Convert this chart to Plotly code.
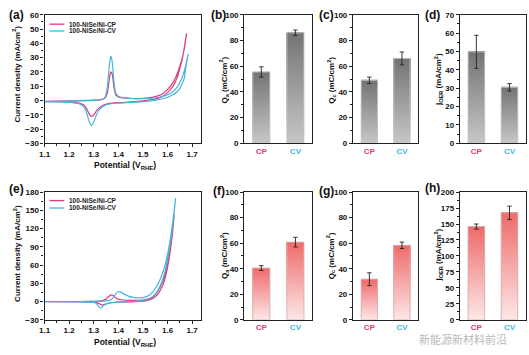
import plotly.graph_objects as go

W, H = 529, 355

# ---------------- data ----------------
cats = ["CP", "CV"]

# (a) CV curves, top row (forward scan then reverse scan)
a_cp_fwd_E = [1.10, 1.15, 1.20, 1.25, 1.30, 1.33, 1.345, 1.355, 1.36, 1.365, 1.37, 1.375, 1.38, 1.385, 1.39,
              1.40, 1.42, 1.45, 1.50, 1.53, 1.56, 1.58, 1.60, 1.62, 1.63, 1.64, 1.65, 1.66, 1.67, 1.677]
a_cp_fwd_j = [-0.6, -0.5, -0.3, -0.1, 0.2, 0.6, 1.5, 5.0, 11.0, 17.0, 20.0, 18.5, 12.0, 6.5, 3.8,
              2.5, 1.8, 1.4, 1.5, 2.0, 3.2, 4.8, 7.8, 12.0, 15.0, 19.0, 24.0, 30.0, 38.0, 47.0]
a_cp_rev_E = [1.677, 1.67, 1.66, 1.65, 1.64, 1.63, 1.62, 1.60, 1.58, 1.55, 1.50, 1.45, 1.40, 1.36, 1.34,
              1.32, 1.31, 1.30, 1.29, 1.28, 1.27, 1.26, 1.24, 1.20, 1.15, 1.10]
a_cp_rev_j = [47.0, 39.0, 29.0, 22.5, 16.5, 12.5, 9.5, 5.5, 3.0, 1.0, -0.3, -1.0, -1.5, -2.2, -3.2,
              -5.5, -7.5, -10.0, -11.2, -9.0, -5.5, -3.2, -1.8, -1.1, -0.8, -0.7]

a_cv_fwd_E = [1.10, 1.15, 1.20, 1.25, 1.30, 1.33, 1.345, 1.355, 1.36, 1.365, 1.37, 1.375, 1.38, 1.385, 1.39,
              1.40, 1.42, 1.45, 1.50, 1.55, 1.58, 1.60, 1.62, 1.64, 1.657, 1.67, 1.684]
a_cv_fwd_j = [-0.7, -0.6, -0.4, -0.2, 0.1, 0.5, 2.0, 9.0, 18.0, 27.0, 31.0, 27.0, 17.0, 9.0, 5.0,
              3.0, 2.0, 1.5, 1.3, 1.8, 2.8, 4.0, 6.0, 9.5, 15.0, 22.0, 32.5]
a_cv_rev_E = [1.684, 1.675, 1.667, 1.66, 1.65, 1.64, 1.62, 1.60, 1.58, 1.55, 1.50, 1.45, 1.40, 1.36, 1.34,
              1.32, 1.31, 1.30, 1.29, 1.28, 1.27, 1.26, 1.24, 1.20, 1.15, 1.10]
a_cv_rev_j = [32.5, 24.0, 15.0, 12.0, 8.5, 6.3, 3.8, 2.3, 1.2, 0.2, -0.8, -1.4, -1.9, -2.6, -3.8,
              -7.0, -10.5, -15.0, -17.5, -14.0, -8.0, -4.5, -2.2, -1.3, -1.0, -0.9]

# (e) CV curves, bottom row
e_cp_fwd_E = [1.10, 1.20, 1.30, 1.33, 1.35, 1.36, 1.37, 1.38, 1.39, 1.40, 1.42, 1.45, 1.50, 1.52, 1.54,
              1.56, 1.58, 1.60, 1.61, 1.62, 1.627]
e_cp_fwd_j = [0.0, 0.0, 0.3, 1.0, 4.0, 8.0, 11.0, 9.5, 6.0, 4.0, 2.5, 2.0, 2.5, 4.0, 8.0,
              17.0, 33.0, 62.0, 85.0, 115.0, 143.0]
e_cp_rev_E = [1.627, 1.62, 1.61, 1.60, 1.59, 1.58, 1.56, 1.54, 1.52, 1.50, 1.45, 1.40, 1.37, 1.35, 1.34,
              1.33, 1.32, 1.30, 1.25, 1.10]
e_cp_rev_j = [143.0, 112.0, 80.0, 56.0, 38.0, 26.0, 12.0, 5.0, 2.0, 0.5, -0.5, -1.0, -2.0, -4.0, -5.5,
              -5.0, -3.0, -1.0, -0.5, -0.3]

e_cv_fwd_E = [1.10, 1.20, 1.30, 1.35, 1.37, 1.38, 1.39, 1.40, 1.41, 1.42, 1.44, 1.46, 1.48, 1.50, 1.52,
              1.54, 1.56, 1.58, 1.59, 1.60, 1.61, 1.62, 1.633]
e_cv_fwd_j = [0.0, 0.0, 0.2, 1.0, 3.0, 7.0, 13.0, 16.5, 15.5, 13.0, 9.0, 7.0, 6.0, 6.5, 9.0,
              16.0, 28.0, 47.0, 60.0, 77.0, 100.0, 128.0, 170.0]
e_cv_rev_E = [1.633, 1.62, 1.61, 1.60, 1.59, 1.58, 1.56, 1.54, 1.52, 1.50, 1.45, 1.40, 1.36, 1.34, 1.33,
              1.32, 1.31, 1.30, 1.25, 1.10]
e_cv_rev_j = [170.0, 122.0, 92.0, 68.0, 50.0, 36.0, 18.0, 8.0, 3.0, 1.0, 0.0, -1.0, -2.5, -6.0, -11.0,
              -8.0, -3.0, -1.5, -0.5, -0.3]

# bar panels
b_Qa = [55.5, 86.0];   b_Qa_err = [4.0, 2.1]
c_Qc = [49.0, 66.0];   c_Qc_err = [2.5, 5.0]
d_jOER = [49.8, 30.5]; d_jOER_err = [9.0, 2.0]
f_Qa = [40.5, 60.8];   f_Qa_err = [1.9, 3.8]
g_Qc = [31.8, 58.3];   g_Qc_err = [5.0, 2.5]
h_jOER = [146.0, 167.5]; h_jOER_err = [4.0, 10.5]

# ---------------- styling helpers ----------------
FONT = "Liberation Sans, Arial, sans-serif"
CP_COL = "#d6407c"
CV_COL = "#45b5dc"


def px(x):
    return x / W


def py(y):
    return 1 - y / H


fig = go.Figure()

# panel frames in pixels: (x0, x1, y0, y1)
TOP = (11, 143)
BOT = (193, 324)
frames = {
    1: (39, 197) + TOP, 2: (241, 310) + TOP, 3: (351, 417) + TOP, 4: (459, 526) + TOP,
    5: (39, 197) + BOT, 6: (241, 310) + BOT, 7: (351, 417) + BOT, 8: (459, 526) + BOT,
}


def axname(i, kind):
    return kind + ("" if i == 1 else str(i))


def ref(i, kind):
    return kind[0] + ("" if i == 1 else str(i))


layout_axes = {}
for i, (x0, x1, y0, y1) in frames.items():
    common = dict(showline=True, mirror=True, linecolor="#222", linewidth=1.2,
                  showgrid=False, zeroline=False,
                  tickfont=dict(family=FONT, size=8, color="#111", weight="bold"))
    layout_axes[axname(i, "xaxis")] = dict(domain=[px(x0), px(x1)], anchor=ref(i, "y"), **common)
    layout_axes[axname(i, "yaxis")] = dict(domain=[py(y1), py(y0)], anchor=ref(i, "x"), **common)

# line panels
for i, rng, dt in [(1, [-30, 60], 10), (5, [-30, 180], 30)]:
    layout_axes[axname(i, "xaxis")].update(range=[1.1, 1.735], tick0=1.1, dtick=0.1, ticks="outside",
                                           ticklen=3, tickwidth=1, tickcolor="#222",
                                           minor=dict(ticks="outside", ticklen=2, dtick=0.05, tickcolor="#222"))
    layout_axes[axname(i, "yaxis")].update(range=rng, tick0=rng[0], dtick=dt, ticks="outside",
                                           ticklen=3, tickwidth=1, tickcolor="#222",
                                           minor=dict(ticks="outside", ticklen=2, dtick=dt / 2, tickcolor="#222"))


def add_cv(i, E_f, j_f, E_r, j_r, color, name):
    fig.add_trace(go.Scatter(x=E_f + E_r, y=j_f + j_r, mode="lines", name=name,
                             line=dict(color=color, width=1.2, shape="spline", smoothing=0.6),
                             xaxis=ref(i, "x"), yaxis=ref(i, "y"), showlegend=False))


add_cv(1, a_cp_fwd_E, a_cp_fwd_j, a_cp_rev_E, a_cp_rev_j, CP_COL, "100-NiSe/Ni-CP")
add_cv(1, a_cv_fwd_E, a_cv_fwd_j, a_cv_rev_E, a_cv_rev_j, CV_COL, "100-NiSe/Ni-CV")
add_cv(5, e_cp_fwd_E, e_cp_fwd_j, e_cp_rev_E, e_cp_rev_j, CP_COL, "100-NiSe/Ni-CP")
add_cv(5, e_cv_fwd_E, e_cv_fwd_j, e_cv_rev_E, e_cv_rev_j, CV_COL, "100-NiSe/Ni-CV")


def mix(c0, c1, f):
    return "rgb(%d,%d,%d)" % tuple(round(a + (b - a) * f) for a, b in zip(c0, c1))


GRAY_TOP, GRAY_BOT = (115, 115, 115), (198, 198, 198)
RED_TOP, RED_BOT = (238, 105, 105), (253, 230, 230)


def add_bars(i, vals, errs, top, bot, ymax, dt, edge):
    n = 48
    xs, bases, hs, cols = [], [], [], []
    for k in range(n):
        f = k / n
        for xi, v in enumerate(vals):
            xs.append(xi)
            bases.append(v * f)
            hs.append(v * (1 - f))
            cols.append(mix(bot, top, f))
    fig.add_trace(go.Bar(x=xs, y=hs, base=bases, width=0.5,
                         marker=dict(color=cols, line=dict(width=0)),
                         xaxis=ref(i, "x"), yaxis=ref(i, "y"), showlegend=False, hoverinfo="skip"))
    fig.add_trace(go.Bar(x=[0, 1], y=vals, width=0.5,
                         marker=dict(color="rgba(0,0,0,0)", line=dict(color=edge, width=0.9)),
                         error_y=dict(type="data", array=errs, thickness=0.9, width=2.2, color="#222"),
                         xaxis=ref(i, "x"), yaxis=ref(i, "y"), showlegend=False))
    layout_axes[axname(i, "xaxis")].update(
        range=[-0.5, 1.5], tickvals=[0, 1], ticks="",
        ticktext=['<span style="color:%s">%s</span>' % (CP_COL, cats[0]),
                  '<span style="color:%s">%s</span>' % (CV_COL, cats[1])])
    layout_axes[axname(i, "yaxis")].update(
        range=[0, ymax], tick0=0, dtick=dt, ticks="outside", ticklen=3, tickwidth=1, tickcolor="#222",
        minor=dict(ticks="outside", ticklen=2, dtick=dt / 2, tickcolor="#222"))


add_bars(2, b_Qa, b_Qa_err, GRAY_TOP, GRAY_BOT, 100, 20, "#c4c4c4")
add_bars(3, c_Qc, c_Qc_err, GRAY_TOP, GRAY_BOT, 100, 20, "#c4c4c4")
add_bars(4, d_jOER, d_jOER_err, GRAY_TOP, GRAY_BOT, 70, 10, "#c4c4c4")
add_bars(6, f_Qa, f_Qa_err, RED_TOP, RED_BOT, 100, 20, "#d8b0b0")
add_bars(7, g_Qc, g_Qc_err, RED_TOP, RED_BOT, 100, 20, "#d8b0b0")
add_bars(8, h_jOER, h_jOER_err, RED_TOP, RED_BOT, 200, 25, "#d8b0b0")

annotations = []
shapes = []


def text(x, y, s, size, angle=0, xanchor="center", color="#111", family=FONT, weight="bold"):
    annotations.append(dict(x=px(x), y=py(y), xref="paper", yref="paper", text=s, showarrow=False,
                            textangle=angle, xanchor=xanchor, yanchor="middle",
                            font=dict(family=family, size=size, color=color, weight=weight)))


# panel labels
for lab, x, y in [("(a)", 1, 11), ("(b)", 205, 11), ("(c)", 315, 11), ("(d)", 422, 11),
                  ("(e)", 1, 190), ("(f)", 207, 192), ("(g)", 315, 192), ("(h)", 422, 189)]:
    text(x, y, lab, 12, xanchor="left")

# axis titles
text(10.5, 72, "Current density (mA/cm<sup>2</sup>)", 8, angle=-90)
text(10.5, 256, "Current density (mA/cm<sup>2</sup>)", 8, angle=-90)
text(120, 166, "Potential (V<sub>RHE</sub>)", 8.5)
text(120, 347, "Potential (V<sub>RHE</sub>)", 8.5)
text(220, 78, "Q<sub>a</sub> (mC/cm<sup>2</sup>)", 8, angle=-90)
text(328.5, 78, "Q<sub>c</sub> (mC/cm<sup>2</sup>)", 8, angle=-90)
text(437, 78, "j<sub>OER</sub> (mA/cm<sup>2</sup>)", 8, angle=-90)
text(221, 258, "Q<sub>a</sub> (mC/cm<sup>2</sup>)", 8, angle=-90)
text(328.5, 258, "Q<sub>c</sub> (mC/cm<sup>2</sup>)", 8, angle=-90)
text(437, 258, "j<sub>OER</sub> (mA/cm<sup>2</sup>)", 8, angle=-90)

# legends (a) and (e)
for yc, yv in [(20.7, 27.7), (201.7, 209.3)]:
    for yy, col, nm in [(yc, CP_COL, "100-NiSe/Ni-CP"), (yv, CV_COL, "100-NiSe/Ni-CV")]:
        shapes.append(dict(type="line", xref="paper", yref="paper", x0=px(44), x1=px(59), y0=py(yy), y1=py(yy),
                           line=dict(color=col, width=1.3)))
        text(61.5, yy, nm, 6.5, xanchor="left", color="#222")

# watermark
text(462, 344, "新能源新材料前沿", 11, color="rgba(110,110,110,0.5)",
     family="Noto Sans CJK SC", weight="normal")

fig.update_layout(width=W, height=H, margin=dict(l=0, r=0, t=0, b=0),
                  paper_bgcolor="white", plot_bgcolor="white", barmode="overlay",
                  showlegend=False, annotations=annotations, shapes=shapes,
                  font=dict(family=FONT), **layout_axes)

fig.write_html("out.html", config={"displayModeBar": False},
               post_script="document.body.style.margin='0';document.body.style.overflow='hidden';")
